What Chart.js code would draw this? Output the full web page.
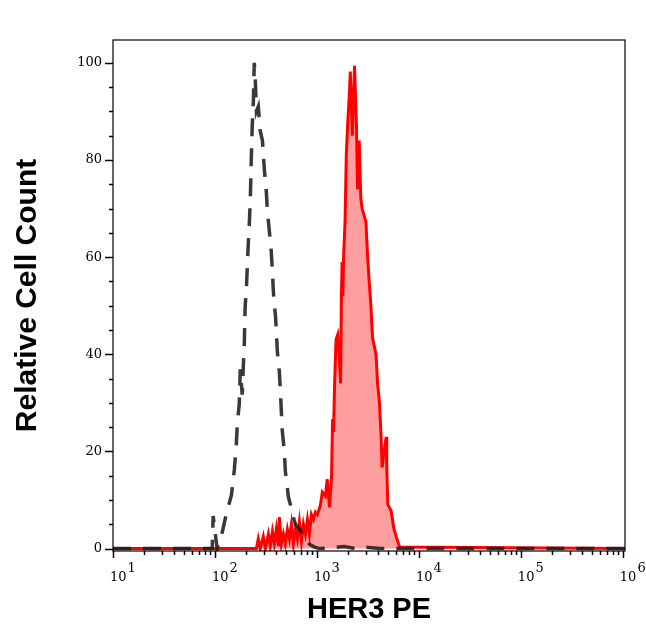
<!DOCTYPE html>
<html>
<head>
<meta charset="utf-8">
<script src="https://cdn.jsdelivr.net/npm/chart.js@4/dist/chart.umd.min.js"></script>
<style>
  html, body { margin: 0; padding: 0; background: #fff; }
  #wrap { width: 646px; height: 641px; position: relative; }
</style>
</head>
<body>
<div id="wrap"><canvas id="histChart"></canvas></div>
<script>
// isotype control (dashed grey)
var isoX = [10, 94, 96, 105, 118, 129, 145, 155, 162, 166, 173, 177, 185, 190, 194, 196, 198, 203, 208, 212, 217, 222, 227, 232, 238, 243, 249, 255, 266, 278, 292, 305, 319, 327, 342, 357, 366, 374, 382, 392, 400, 409, 428, 438, 448, 458, 479, 490, 502, 525, 549, 575, 615, 673, 754, 844, 945, 1059, 1864, 2337, 2930, 4114, 1050000];
var isoY = [0, 0, 6.7, 0, 3.4, 7.1, 11, 16.3, 21.5, 26, 29.7, 36.9, 31.7, 37.9, 42, 47, 50, 53.3, 58.4, 62.5, 66.7, 71.8, 80, 87, 92, 100, 96, 90, 91, 86, 84, 78, 73.4, 69.3, 65.2, 61, 57, 52.9, 50.2, 48, 44.7, 40.6, 36.4, 32.4, 28.2, 24.1, 20, 15.9, 14.3, 10.6, 9.1, 7.1, 5, 4, 2.4, 0.9, 0.3, 0, 0.4, 0, 0.3, 0, 0];

// HER3 PE stained (red, filled)
var herX = [10, 255, 266, 278, 298, 312, 334, 349, 366, 382, 400, 419, 428, 448, 469, 490, 513, 537, 562, 588, 615, 643, 673, 705, 737, 771, 807, 844, 883, 924, 967, 1011, 1083, 1129, 1211, 1261, 1328, 1391, 1423, 1456, 1490, 1540, 1596, 1650, 1706, 1737, 1766, 1797, 1825, 1888, 1940, 2010, 2091, 2124, 2225, 2337, 2443, 2500, 2597, 2692, 2775, 3022, 3135, 3253, 3379, 3508, 3795, 3939, 4095, 4258, 4358, 4490, 4775, 4840, 4955, 5357, 5647, 6001, 6471, 1050000];
var herY = [0, 0, 2, 0, 2.5, 0, 3, 0.5, 3.5, 1, 4, 0.5, 6.5, 1, 3, 1, 4, 2, 5, 1, 4, 2, 5.5, 1.5, 5, 3, 6, 3, 7, 6, 7.5, 7, 9, 11.6, 10.8, 14.3, 8.5, 14.7, 26.6, 24, 33.8, 43, 44, 40, 34, 52, 59, 52, 60, 67.5, 81, 88, 94.5, 98.2, 85, 99.4, 87, 74, 84, 72.2, 70, 67.3, 60.5, 55, 50.2, 43.4, 40, 33.8, 30.3, 23, 16.7, 19, 23, 16.7, 9.1, 7.7, 4.4, 2.4, 0.3, 0];

var yTickLabels = [0, 20, 40, 60, 80, 100];
var xTickExponents = [1, 2, 3, 4, 5, 6];

function toPoints(xs, ys) {
    var pts = [];
    for (var i = 0; i < xs.length; i++) {
        pts.push({x: xs[i], y: ys[i]});
    }
    return pts;
}

var axisDecor = {
    id: 'axisDecor',
    afterDraw: function (chart) {
        var ctx = chart.ctx;
        var area = chart.chartArea;
        var xs = chart.scales.x;
        var ys = chart.scales.y;
        ctx.save();
        ctx.strokeStyle = '#000';
        ctx.lineWidth = 1.2;
        ctx.strokeRect(area.left, area.top, area.right - area.left, area.bottom - area.top);

        // y ticks, minor every 5
        ctx.lineWidth = 1.5;
        for (var v = 0; v <= 100; v += 5) {
            var py = Math.round(ys.getPixelForValue(v)) + 0.5;
            var len = (v % 20 === 0) ? 8 : 4;
            ctx.beginPath();
            ctx.moveTo(area.left - len, py);
            ctx.lineTo(area.left, py);
            ctx.stroke();
        }

        // x log ticks
        for (var d = 1; d <= 6; d++) {
            for (var m = 1; m <= 9; m++) {
                var val = m * Math.pow(10, d);
                if (val < xs.min || val > xs.max) continue;
                var px = Math.round(xs.getPixelForValue(val)) + 0.5;
                var tl = (m === 1) ? 7 : 4;
                ctx.beginPath();
                ctx.moveTo(px, area.bottom);
                ctx.lineTo(px, area.bottom + tl);
                ctx.stroke();
            }
        }

        // x labels 10^n
        ctx.fillStyle = '#000';
        ctx.textBaseline = 'alphabetic';
        ctx.textAlign = 'left';
        xTickExponents.forEach(function (e) {
            var px = xs.getPixelForValue(Math.pow(10, e));
            ctx.font = '13px "DejaVu Serif"';
            var w = ctx.measureText('10').width;
            ctx.fillText('10', px - 3, 581);
            ctx.font = '13px "DejaVu Serif"';
            ctx.fillText(String(e), px - 3 + w + 1, 572);
        });
        ctx.restore();
    }
};

new Chart(document.getElementById('histChart'), {
    type: 'line',
    data: {
        datasets: [
            {
                label: 'Isotype',
                data: toPoints(isoX, isoY),
                borderColor: 'rgba(30,30,30,0.88)',
                borderWidth: 3.5,
                borderDash: [18, 12],
                pointRadius: 0,
                tension: 0,
                fill: false
            },
            {
                label: 'HER3 PE',
                data: toPoints(herX, herY),
                borderColor: '#ff0000',
                backgroundColor: 'rgba(255,0,0,0.38)',
                borderWidth: 3,
                pointRadius: 0,
                tension: 0,
                fill: 'origin'
            }
        ]
    },
    options: {
        responsive: true,
        maintainAspectRatio: false,
        animation: false,
        parsing: true,
        layout: {padding: {left: 0, top: 40, right: 21, bottom: 0}},
        plugins: {
            legend: {display: false},
            tooltip: {enabled: false}
        },
        scales: {
            x: {
                type: 'logarithmic',
                position: 'bottom',
                min: 10,
                max: 1050000,
                grid: {display: false, drawTicks: false},
                border: {display: false},
                ticks: {display: false},
                afterFit: function (s) { s.height = 90; },
                title: {
                    display: true,
                    text: 'HER3 PE',
                    color: '#000',
                    font: {family: 'Liberation Sans', weight: 'bold', size: 29},
                    padding: {top: 0, bottom: 14}
                }
            },
            y: {
                type: 'linear',
                min: -0.5,
                max: 104.7,
                grid: {display: false, drawTicks: false, tickLength: 0},
                border: {display: false},
                afterBuildTicks: function (s) {
                    s.ticks = yTickLabels.map(function (v) { return {value: v}; });
                },
                afterFit: function (s) { s.width = 113; },
                ticks: {
                    color: '#000',
                    padding: 11,
                    font: {family: 'DejaVu Serif', size: 13}
                },
                title: {
                    display: true,
                    text: 'Relative Cell Count',
                    color: '#000',
                    font: {family: 'Liberation Sans', weight: 'bold', size: 30},
                    padding: {top: 10, bottom: 0}
                }
            }
        }
    },
    plugins: [axisDecor]
});
</script>
</body>
</html>
